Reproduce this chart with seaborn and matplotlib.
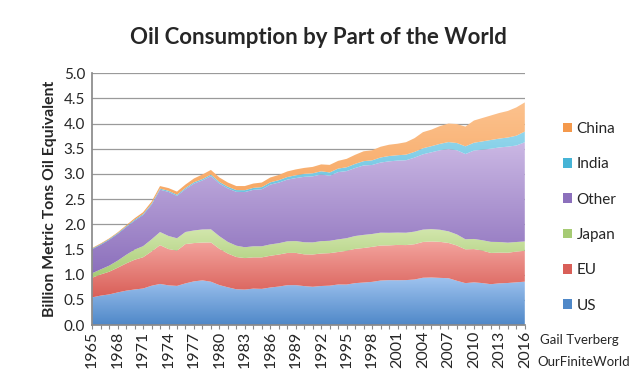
import numpy as np
import matplotlib
matplotlib.use("Agg")
import matplotlib.pyplot as plt
from matplotlib.colors import LinearSegmentedColormap
from matplotlib.patches import Patch
import seaborn as sns

# Oil consumption, million tonnes oil equivalent
years = list(range(1965, 2017))

us = [552, 586, 610, 649, 684, 708, 727, 782, 818, 790,
      779, 829, 869, 889, 862, 795, 751, 712, 706, 725,
      720, 747, 766, 793, 794, 775, 762, 777, 784, 807,
      806, 834, 846, 859, 885, 893, 892, 894, 906, 941,
      946, 938, 932, 880, 834, 850, 835, 813, 830, 837,
      850, 863]
eu = [390, 420, 450, 490, 540, 590, 620, 680, 770, 720,
      700, 780, 760, 750, 780, 720, 670, 640, 625, 620,
      625, 630, 635, 640, 640, 630, 640, 645, 645, 645,
      670, 680, 685, 695, 695, 690, 700, 695, 700, 710,
      715, 715, 700, 700, 670, 660, 645, 620, 610, 600,
      610, 613]
japan = [88, 100, 120, 140, 170, 200, 220, 240, 260, 260,
         245, 240, 250, 260, 260, 250, 230, 225, 215, 220,
         220, 225, 225, 230, 235, 240, 240, 245, 245, 250,
         250, 255, 260, 255, 255, 250, 245, 245, 250, 245,
         245, 240, 230, 220, 200, 200, 205, 220, 210, 200,
         190, 185]
other = [477, 487, 512, 531, 550, 575, 618, 687, 840, 874,
         841, 849, 930, 973, 1057, 1045, 1062, 1068, 1095, 1120,
         1132, 1187, 1203, 1224, 1249, 1298, 1311, 1323, 1291, 1335,
         1331, 1349, 1378, 1369, 1391, 1417, 1428, 1438, 1468, 1494,
         1524, 1577, 1633, 1670, 1691, 1754, 1798, 1848, 1876, 1905,
         1914, 1968]
india = [12, 13, 14, 15, 16, 19, 20, 21, 22, 22,
         23, 24, 26, 27, 29, 32, 33, 35, 37, 39,
         42, 45, 48, 52, 56, 59, 60, 63, 65, 70,
         76, 82, 85, 92, 101, 106, 107, 111, 114, 120,
         122, 127, 138, 144, 153, 155, 163, 173, 176, 181,
         195, 212]
china = [11, 14, 14, 15, 20, 28, 35, 40, 50, 54,
         62, 68, 75, 91, 92, 88, 84, 80, 82, 86,
         91, 96, 103, 111, 116, 118, 127, 137, 150, 153,
         167, 180, 196, 200, 213, 224, 228, 247, 272, 320,
         328, 353, 367, 376, 392, 441, 464, 486, 508, 527,
         561, 579]

labels = ["US", "EU", "Japan", "Other", "India", "China"]
# (top colour, bottom colour) for the Excel-like gradient fills
grads = [("#9fc3ef", "#4f88c8"),
         ("#f3a49e", "#d95f58"),
         ("#d2e6ac", "#a6cb74"),
         ("#cbb8e4", "#8c70bc"),
         ("#94d6ec", "#46b4d6"),
         ("#fcc28e", "#f4994c")]

sns.set_theme(style="white")
plt.rcParams["font.family"] = ["Lato", "DejaVu Sans"]

fig = plt.figure(figsize=(6.4, 3.83), dpi=100)
ax = fig.add_axes([0.144, 0.151, 0.676, 0.658])

x = np.array(years)
series = [np.array(s) / 1000.0 for s in (us, eu, japan, other, india, china)]
polys = ax.stackplot(x, *series, linewidth=0, zorder=2)

# gradient fill inside each band, lighter at the top
base = np.zeros(len(x))
for poly, s, (top, bot) in zip(polys, series, grads):
    upper = base + s
    poly.set_facecolor("none")
    cmap = LinearSegmentedColormap.from_list("g", [bot, top])
    grad = np.linspace(0, 1, 256).reshape(-1, 1)
    im = ax.imshow(grad, cmap=cmap, origin="lower", aspect="auto",
                   extent=[x[0], x[-1], base.min(), upper.max()],
                   zorder=2, interpolation="bilinear")
    im.set_clip_path(poly.get_paths()[0], transform=ax.transData)
    base = upper

ax.set_xlim(1965, 2016)
ax.set_ylim(0, 5)
yt = np.arange(0, 5.01, 0.5)
ax.set_yticks(yt)
ax.set_yticklabels([f"{v:.1f}" for v in yt], fontsize=11)
ax.yaxis.grid(True, color="#9a9a9a", linewidth=0.9, zorder=0)
ax.set_axisbelow(True)

ax.set_xticks(years[::3])
ax.set_xticklabels([str(y) for y in years[::3]], rotation=90, fontsize=11.5)
ax.set_xticks(years, minor=True)
ax.tick_params(axis="x", which="both", direction="out", length=3, width=0.8,
               color="#8a8a8a", bottom=True, pad=1)
ax.tick_params(axis="y", length=0, pad=5)

for side in ("top", "right"):
    ax.spines[side].set_visible(False)
ax.spines["left"].set_color("#8a8a8a")
ax.spines["bottom"].set_color("#8a8a8a")

ax.set_ylabel("Billion Metric Tons Oil Equivalent", fontsize=11.3,
              fontweight="bold", labelpad=5)
fig.text(0.497, 0.903, "Oil Consumption by Part of the World", ha="center",
         va="center", fontsize=16, fontweight="bold")

handles = [Patch(facecolor=c[1], edgecolor="none") for c in grads]
leg = fig.legend(handles[::-1], labels[::-1], loc="upper left",
                 bbox_to_anchor=(0.858, 0.718), frameon=False, fontsize=11,
                 handlelength=0.6, handleheight=0.6, handletextpad=0.3,
                 labelspacing=1.4)

fig.text(0.843, 0.112, "Gail Tverberg", fontsize=9.5, va="center")
fig.text(0.84, 0.055, "OurFiniteWorld", fontsize=9.5, va="center")

fig.savefig("out.png", dpi=100)
